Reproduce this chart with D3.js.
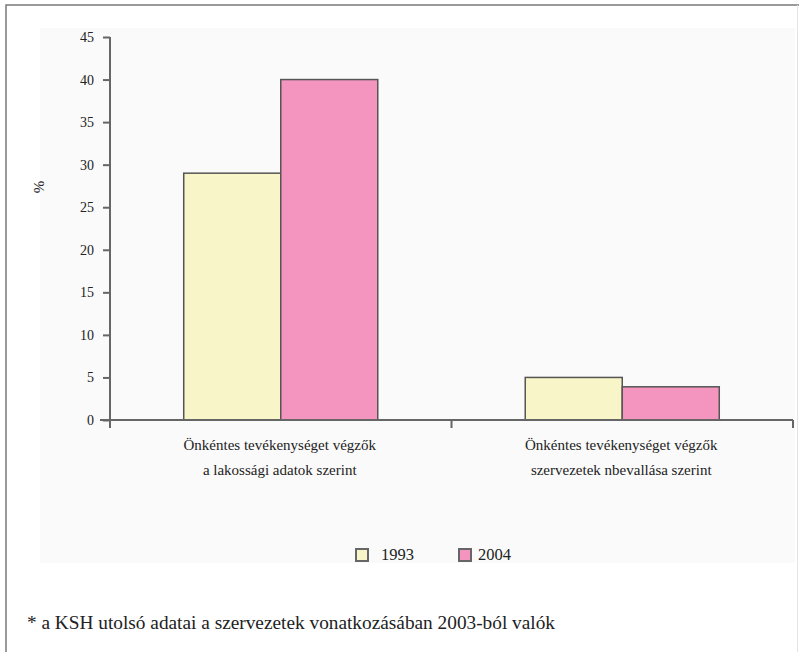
<!DOCTYPE html>
<html>
<head>
<meta charset="utf-8">
<script src="https://cdn.jsdelivr.net/npm/d3@7"></script>
</head>
<body style="margin:0">
<script>
// ---- data ----
const categories = [
  ["Önkéntes tevékenységet végzők", "a lakossági adatok szerint"],
  ["Önkéntes tevékenységet végzők", "szervezetek nbevallása szerint"]
];
const seriesNames = ["1993", "2004"];
const values1993 = [29, 5];
const values2004 = [40, 3.9];
const yTicks = [0, 5, 10, 15, 20, 25, 30, 35, 40, 45];
const yLabel = "%";
const footnote = "* a KSH utolsó adatai a szervezetek vonatkozásában 2003-ból valók";

const W = 799, H = 652;
const FONT = "Liberation Serif";
const colors = {"1993": "#f8f6c8", "2004": "#f395bf"};

const svg = d3.select("body").append("svg").attr("width", W).attr("height", H)
  .style("display", "block").attr("font-family", FONT);

// outer frame
svg.append("rect").attr("x", 6).attr("y", 5).attr("width", W + 10).attr("height", H + 10)
  .attr("fill", "#ffffff").attr("stroke", "#7a7a7a").attr("stroke-width", 1.5);
svg.append("line").attr("x1", 797.5).attr("x2", 797.5).attr("y1", 5).attr("y2", H)
  .attr("stroke", "#e4e4e4").attr("stroke-width", 1);

// faint plot panel
svg.append("rect").attr("x", 40).attr("y", 28).attr("width", 755).attr("height", 535)
  .attr("fill", "#fafafa");

const catKeys = categories.map((d, i) => "c" + i);
const x0 = d3.scaleBand().domain(catKeys).range([110, 793]).padding(0);
const x1 = d3.scaleBand().domain(seriesNames).range([0, x0.bandwidth()]).paddingInner(0).paddingOuter(0.76);
const y = d3.scaleLinear().domain([0, 45]).range([420, 37]);

const rows = categories.map((c, i) => ({key: catKeys[i], vals: [values1993[i], values2004[i]]}));

// bars
const g = svg.append("g");
rows.forEach(r => {
  seriesNames.forEach((s, j) => {
    g.append("rect")
      .attr("x", x0(r.key) + x1(s))
      .attr("y", y(r.vals[j]))
      .attr("width", x1.bandwidth())
      .attr("height", y(0) - y(r.vals[j]))
      .attr("fill", colors[s])
      .attr("stroke", "#555").attr("stroke-width", 1.5);
  });
});

// y axis
const yAxis = d3.axisLeft(y).tickValues(yTicks).tickSize(7).tickPadding(9);
const ya = svg.append("g").attr("transform", "translate(110,0)").call(yAxis);
ya.attr("font-family", FONT).attr("font-size", 14);
ya.select(".domain").attr("stroke", "#666").attr("stroke-width", 2)
  .attr("d", `M0,${y(45)}V${y(0) + 8}`);
ya.selectAll(".tick line").attr("stroke", "#666").attr("stroke-width", 2);
ya.selectAll(".tick text").attr("fill", "#222").attr("font-family", FONT).attr("font-size", 14);

// x axis
const xa = svg.append("g").attr("transform", `translate(0,${y(0)})`);
xa.append("line").attr("x1", 100).attr("x2", 793).attr("stroke", "#666").attr("stroke-width", 2);
const boundaries = [x0.range()[0]].concat(catKeys.map(k => x0(k) + x0.bandwidth()));
xa.selectAll(".xt").data(boundaries).enter().append("line")
  .attr("x1", d => d).attr("x2", d => d).attr("y1", 0).attr("y2", 8)
  .attr("stroke", "#666").attr("stroke-width", 2);
categories.forEach((lines, i) => {
  const cx = x0(catKeys[i]) + x0.bandwidth() / 2 - 1;
  lines.forEach((ln, k) => xa.append("text").attr("text-anchor", "middle").attr("fill", "#222")
    .attr("font-family", FONT).attr("font-size", 15)
    .attr("x", cx).attr("y", 30 + k * 25).text(ln));
});

// y label
svg.append("text").attr("transform", "translate(44,187) rotate(-90)")
  .attr("text-anchor", "middle").attr("fill", "#222")
  .attr("font-family", FONT).attr("font-size", 15).text(yLabel);

// legend
const legendX = [355, 458];
seriesNames.forEach((s, j) => {
  svg.append("rect").attr("x", legendX[j] + 1).attr("y", 549).attr("width", 12).attr("height", 12)
    .attr("fill", colors[s]).attr("stroke", "#666").attr("stroke-width", 2);
  svg.append("text").attr("x", legendX[j] + (j === 0 ? 26 : 20)).attr("y", 560).attr("fill", "#222")
    .attr("font-family", FONT).attr("font-size", 16.5).text(s);
});

// footnote
svg.append("text").attr("x", 27).attr("y", 629).attr("fill", "#222")
  .attr("font-family", FONT).attr("font-size", 18)
  .attr("textLength", 528).attr("lengthAdjust", "spacingAndGlyphs").text(footnote);
</script>
</body>
</html>
